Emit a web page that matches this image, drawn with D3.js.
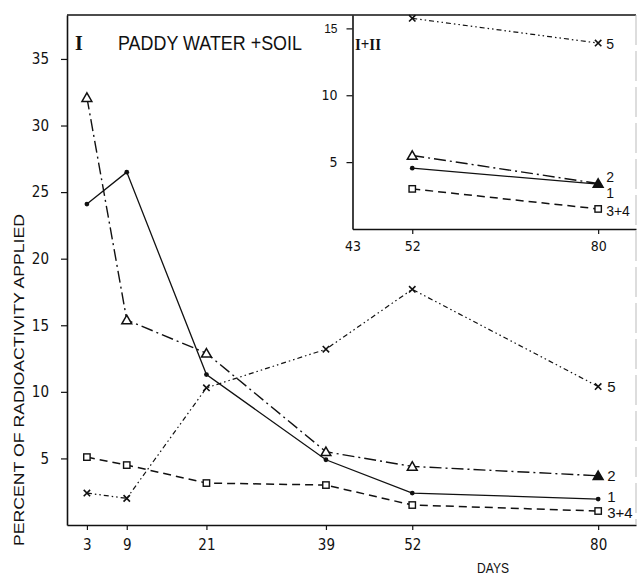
<!DOCTYPE html>
<html>
<head>
<meta charset="utf-8">
<script src="https://cdn.jsdelivr.net/npm/d3@7"></script>
<style>
  html, body { margin: 0; padding: 0; background: #fff; }
  svg { display: block; }
  text { fill: #111; }
</style>
</head>
<body>
<svg id="chart" width="637" height="576"></svg>
<script>
// ---------- data ----------
const days = [3, 9, 21, 39, 52, 80];
const series1 = [24.1, 26.5, 11.3, 4.9, 2.4, 1.95];      // dots, solid
const series2 = [32.1, 15.4, 12.9, 5.5, 4.4, 3.7];       // triangles, dash-dot
const series34 = [5.1, 4.5, 3.15, 3.0, 1.5, 1.05];       // squares, dashed
const series5 = [2.4, 2.0, 10.3, 13.2, 17.7, 10.4];      // crosses, dash-dot-dot

const insetDays = [52, 80];
const inset1 = [4.55, 3.35];
const inset2 = [5.5, 3.4];
const inset34 = [3.0, 1.5];
const inset5 = [15.75, 13.9];

const seriesNames = ["1", "2", "3+4", "5"];
const mainXTicks = [3, 9, 21, 39, 52, 80];
const mainYTicks = [5, 10, 15, 20, 25, 30, 35];
const insetXTicks = [43, 52, 80];
const insetYTicks = [5, 10, 15];

const titleMain = "PADDY WATER +SOIL";
const titleNum = "I";
const insetTitle = "I+II";
const yLabel = "PERCENT  OF  RADIOACTIVITY  APPLIED";
const xLabel = "DAYS";

// ---------- layout ----------
const svg = d3.select("#chart");
const ink = "#111";
const narrow = "'DejaVu Sans Condensed', 'Liberation Sans Narrow', 'DejaVu Sans', sans-serif";
const sans = "'Liberation Sans', Arial, sans-serif";

const x = d3.scaleLinear().domain([0, 85.7]).range([67, 636]);
const y = d3.scaleLinear().domain([0, 38.3]).range([525, 15]);
const xi = d3.scaleLinear().domain([43, 85.7]).range([x(43), 636]);
const yi = d3.scaleLinear().domain([0, 16]).range([229, 15]);

const styles = {
  "1":   { dash: null,               width: 1.3, marker: "dot" },
  "2":   { dash: "12,4,2,4",         width: 1.4, marker: "tri" },
  "3+4": { dash: "8,5",              width: 1.5, marker: "sq" },
  "5":   { dash: "5,3,1.5,3,1.5,3",  width: 1.2, marker: "x" }
};

function styleAxis(g, size) {
  g.selectAll("path.domain").attr("stroke", ink).attr("stroke-width", 1.6);
  g.selectAll(".tick line").attr("stroke", ink).attr("stroke-width", 1.2);
  g.selectAll(".tick text").attr("font-family", narrow).attr("font-stretch", "condensed")
    .attr("font-size", size).attr("fill", ink);
}

// main axes
const gx = svg.append("g").attr("transform", `translate(0,${y(0)})`)
  .call(d3.axisBottom(x).tickValues(mainXTicks).tickSize(5).tickSizeOuter(0).tickPadding(9));
styleAxis(gx, 15);
const gy = svg.append("g").attr("transform", `translate(${x(0)},0)`)
  .call(d3.axisLeft(y).tickValues(mainYTicks).tickSize(6).tickSizeOuter(0).tickPadding(12));
styleAxis(gy, 15);

// top frame + faint right edge
svg.append("line").attr("x1", x(0)).attr("x2", x.range()[1]).attr("y1", y.range()[1]).attr("y2", y.range()[1])
  .attr("stroke", ink).attr("stroke-width", 1.6);
svg.append("line").attr("x1", x.range()[1]).attr("x2", x.range()[1]).attr("y1", y.range()[1]).attr("y2", y(0))
  .attr("stroke", "#bbb").attr("stroke-width", 1).attr("stroke-dasharray", "30,6");

// inset axes
const gxi = svg.append("g").attr("transform", `translate(0,${yi(0)})`)
  .call(d3.axisBottom(xi).tickValues(insetXTicks).tickSize(5).tickSizeOuter(0).tickPadding(7));
styleAxis(gxi, 14);
gxi.selectAll(".tick").filter(d => d === 43).select("line").remove();
const gyi = svg.append("g").attr("transform", `translate(${xi(43)},0)`)
  .call(d3.axisLeft(yi).tickValues(insetYTicks).tickSize(6).tickSizeOuter(0).tickPadding(9));
styleAxis(gyi, 14);
gyi.selectAll(".tick").filter(d => d === 15).select("text").attr("font-size", 12).attr("font-family", sans);

// ---------- series ----------
function markers(g, pts, kind, sx, sy) {
  pts.forEach((p, i) => {
    const cx = sx(p.d), cy = sy(p.v);
    if (kind === "dot") {
      g.append("circle").attr("cx", cx).attr("cy", cy).attr("r", 2.4).attr("fill", ink);
    } else if (kind === "tri") {
      const filled = p.d === 80;
      g.append("path").attr("d", d3.symbol(d3.symbolTriangle, 42)())
        .attr("transform", `translate(${cx},${cy + 1})`)
        .attr("fill", filled ? ink : "#fff").attr("stroke", ink).attr("stroke-width", 1.5);
    } else if (kind === "sq") {
      g.append("rect").attr("x", cx - 3.2).attr("y", cy - 3.2).attr("width", 6.4).attr("height", 6.4)
        .attr("fill", "#fff").attr("stroke", ink).attr("stroke-width", 1.4);
    } else if (kind === "x") {
      const s = 3.2;
      g.append("path").attr("d", `M${cx - s},${cy - s}L${cx + s},${cy + s}M${cx - s},${cy + s}L${cx + s},${cy - s}`)
        .attr("stroke", ink).attr("stroke-width", 1.6);
    }
  });
}

function drawSeries(g, xs, vals, name, sx, sy) {
  const st = styles[name];
  const pts = xs.map((d, i) => ({ d, v: vals[i] }));
  const line = d3.line().x(p => sx(p.d)).y(p => sy(p.v));
  g.append("path").datum(pts).attr("d", line).attr("fill", "none")
    .attr("stroke", ink).attr("stroke-width", st.width)
    .attr("stroke-dasharray", st.dash);
  markers(g, pts, st.marker, sx, sy);
}

const mainVals = { "1": series1, "2": series2, "3+4": series34, "5": series5 };
const insetVals = { "1": inset1, "2": inset2, "3+4": inset34, "5": inset5 };

const gMain = svg.append("g");
["5", "3+4", "2", "1"].forEach(n => drawSeries(gMain, days, mainVals[n], n, x, y));
const gIn = svg.append("g");
["5", "3+4", "2", "1"].forEach(n => drawSeries(gIn, insetDays, insetVals[n], n, xi, yi));

// end labels
const mainLabelDy = { "1": -2, "2": 0, "3+4": 2, "5": 0 };
const insetLabelDy = { "1": 9, "2": -6, "3+4": 2, "5": 1 };
seriesNames.forEach(n => {
  const vm = mainVals[n];
  svg.append("text").attr("x", x(80) + 9).attr("y", y(vm[vm.length - 1]) + mainLabelDy[n])
    .attr("dy", "0.35em").attr("font-family", sans).attr("font-size", 15).text(n);
  const vi = insetVals[n];
  svg.append("text").attr("x", xi(80) + 8).attr("y", yi(vi[vi.length - 1]) + insetLabelDy[n])
    .attr("dy", "0.35em").attr("font-family", sans).attr("font-size", 14).text(n);
});

// titles
svg.append("text").attr("x", 75).attr("y", 50).attr("font-family", "'Liberation Serif', 'DejaVu Serif', serif")
  .attr("font-weight", "bold").attr("font-size", 20).text(titleNum);
svg.append("text").attr("x", 118).attr("y", 50).attr("font-family", sans)
  .attr("font-size", 20).attr("textLength", 184).attr("lengthAdjust", "spacingAndGlyphs").text(titleMain);
svg.append("text").attr("x", 355).attr("y", 50).attr("font-family", "'Liberation Serif', 'DejaVu Serif', serif")
  .attr("font-weight", "bold").attr("font-size", 17).attr("textLength", 26).attr("lengthAdjust", "spacingAndGlyphs")
  .text(insetTitle);

// axis titles
svg.append("text").attr("transform", `translate(24,380) rotate(-90)`).attr("text-anchor", "middle")
  .attr("font-family", sans).attr("font-size", 14).attr("textLength", 332).attr("lengthAdjust", "spacingAndGlyphs")
  .text(yLabel);
svg.append("text").attr("x", 493).attr("y", 573).attr("text-anchor", "middle")
  .attr("font-family", sans).attr("font-size", 14).attr("textLength", 32).attr("lengthAdjust", "spacingAndGlyphs")
  .text(xLabel);
</script>
</body>
</html>
